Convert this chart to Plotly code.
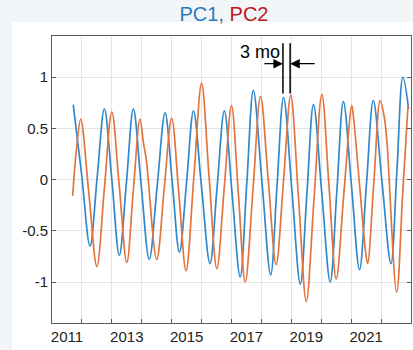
import plotly.graph_objects as go

# ---- data (decimal years) ----
t_pc1 = [2011.71, 2011.99, 2012.27, 2012.51, 2012.75, 2013.00, 2013.25, 2013.49, 2013.72, 2013.98,
         2014.25, 2014.52, 2014.78, 2015.02, 2015.26, 2015.50, 2015.73, 2016.00, 2016.28, 2016.52,
         2016.76, 2017.02, 2017.29, 2017.51, 2017.73, 2018.02, 2018.31, 2018.52, 2018.74, 2019.02,
         2019.30, 2019.52, 2019.74, 2020.02, 2020.30, 2020.52, 2020.74, 2021.01, 2021.28, 2021.51,
         2021.74, 2022.03, 2022.33, 2022.53, 2022.73, 2022.92]
pc1 = [0.73, 0.05, -0.65, 0.02, 0.69, 0.00, -0.74, -0.02, 0.69, -0.05,
       -0.78, -0.05, 0.65, -0.03, -0.71, -0.02, 0.67, -0.08, -0.82, -0.07,
       0.67, -0.14, -0.95, -0.04, 0.87, -0.03, -0.93, -0.07, 0.80, -0.11,
       -1.02, -0.14, 0.73, -0.14, -1.00, -0.12, 0.76, -0.06, -0.88, -0.05,
       0.77, -0.02, -0.82, 0.09, 1.00, 0.69]

t_pc2 = [2011.69, 2011.82, 2011.96, 2012.23, 2012.50, 2012.75, 2013.00, 2013.25, 2013.50, 2013.72,
         2013.94, 2014.06, 2014.15, 2014.50, 2014.75, 2015.00, 2015.24, 2015.48, 2015.74, 2016.00,
         2016.25, 2016.51, 2016.76, 2017.00, 2017.23, 2017.46, 2017.72, 2017.97, 2018.23, 2018.49,
         2018.74, 2018.98, 2019.24, 2019.50, 2019.76, 2020.02, 2020.26, 2020.50, 2020.76, 2021.02,
         2021.08, 2021.28, 2021.48, 2021.55, 2021.76, 2021.97, 2022.10, 2022.19, 2022.52, 2022.72,
         2022.90]
pc2 = [-0.16, 0.30, 0.59, -0.13, -0.85, -0.09, 0.66, -0.07, -0.81, -0.10,
       0.59, 0.35, 0.20, -0.78, -0.09, 0.60, -0.14, -0.89, 0.02, 0.94,
       0.03, -0.87, -0.07, 0.72, -0.14, -1.00, -0.09, 0.81, -0.01, -0.83,
       -0.01, 0.82, -0.18, -1.19, -0.18, 0.83, -0.07, -0.97, -0.12, 0.72,
       0.60, -0.05, -0.70, -0.82, -0.02, 0.77, 0.62, 0.39, -1.10, -0.15,
       0.72]

label_years = [2011, 2013, 2015, 2017, 2019, 2021]
grid_years = list(range(2012, 2023))
y_ticks = [-1, -0.5, 0, 0.5, 1]
y_ticktext = ["-1", "-0.5", "0", "0.5", "1"]

lag_start = 2018.72   # PC1 peak
lag_end = 2018.96     # PC2 peak

BLUE = "#3189cb"
ORANGE = "#e4743e"
FONT = "Liberation Sans, Arial, sans-serif"

fig = go.Figure()
fig.add_trace(go.Scatter(x=t_pc1, y=pc1, mode="lines", line=dict(color=BLUE, width=1.7, shape="spline", smoothing=1.0),
                         showlegend=False, hoverinfo="skip"))
fig.add_trace(go.Scatter(x=t_pc2, y=pc2, mode="lines", line=dict(color=ORANGE, width=1.7, shape="spline", smoothing=1.0),
                         showlegend=False, hoverinfo="skip"))

W, H = 413, 350
L, R, T, B = 52, 2, 36, 27
pw, ph = W - L - R, H - T - B

fig.update_layout(
    width=W, height=H,
    margin=dict(l=L, r=R, t=T, b=B, pad=0),
    paper_bgcolor="#f3f6f9",
    plot_bgcolor="white",
    font=dict(family=FONT, size=14, color="#262626"),
    title=dict(
        text='<span style="color:#2a7cc0">PC1</span><span style="color:#666">, </span><span style="color:#c0161e">PC2</span>',
        x=224 / W, xanchor="center", y=1 - 14 / H, yanchor="middle",
        font=dict(family=FONT, size=20),
    ),
    xaxis=dict(
        range=[2011, 2023],
        tickmode="array",
        tickvals=[y + 0.5 for y in label_years],
        ticktext=[str(y) for y in label_years],
        ticks="", showgrid=False, zeroline=False,
        showline=True, linecolor="#5a5a5a", linewidth=1, mirror=True,
        tickfont=dict(size=15, color="#222"),
        minor=dict(tickmode="array", tickvals=grid_years, ticks="inside", ticklen=4,
                   tickcolor="#5a5a5a", showgrid=True, gridcolor="#e4e4e4", gridwidth=1),
    ),
    yaxis=dict(
        range=[-1.4, 1.4],
        tickmode="array", tickvals=y_ticks, ticktext=y_ticktext,
        ticks="inside", ticklen=4, tickcolor="#5a5a5a",
        showgrid=True, gridcolor="#e4e4e4", gridwidth=1, zeroline=False,
        showline=True, linecolor="#5a5a5a", linewidth=1, mirror="ticks",
        tickfont=dict(size=15, color="#222"),
    ),
)

# white figure panel over the light tinted page
fig.add_shape(type="rect", xref="paper", yref="paper",
              x0=-40 / pw, x1=1 + R / pw, y0=-B / ph - 0.01, y1=1 + 14 / ph,
              fillcolor="white", line=dict(width=0), layer="below")

# lag markers
for xv in (lag_start, lag_end):
    fig.add_shape(type="line", xref="x", yref="y", x0=xv, x1=xv, y0=0.84, y1=1.33,
                  line=dict(color="black", width=1.5))

fig.add_annotation(x=lag_start, y=1.13, ax=-20, ay=0, xref="x", yref="y", text="", showarrow=True,
                   arrowhead=2, arrowsize=1.6, arrowwidth=1.2, arrowcolor="black")
fig.add_annotation(x=lag_end, y=1.13, ax=26, ay=0, xref="x", yref="y", text="", showarrow=True,
                   arrowhead=2, arrowsize=1.6, arrowwidth=1.2, arrowcolor="black")
fig.add_annotation(x=2017.96, y=1.245, xref="x", yref="y", text="3 mo", showarrow=False,
                   font=dict(family=FONT, size=18, color="black"))

fig.write_html("out.html",
               config={"displayModeBar": False, "staticPlot": True},
               post_script="document.body.style.margin='0';document.body.style.padding='0';"
                           "document.body.style.background='#f3f6f9';"
                           "document.documentElement.style.overflow='hidden';")
